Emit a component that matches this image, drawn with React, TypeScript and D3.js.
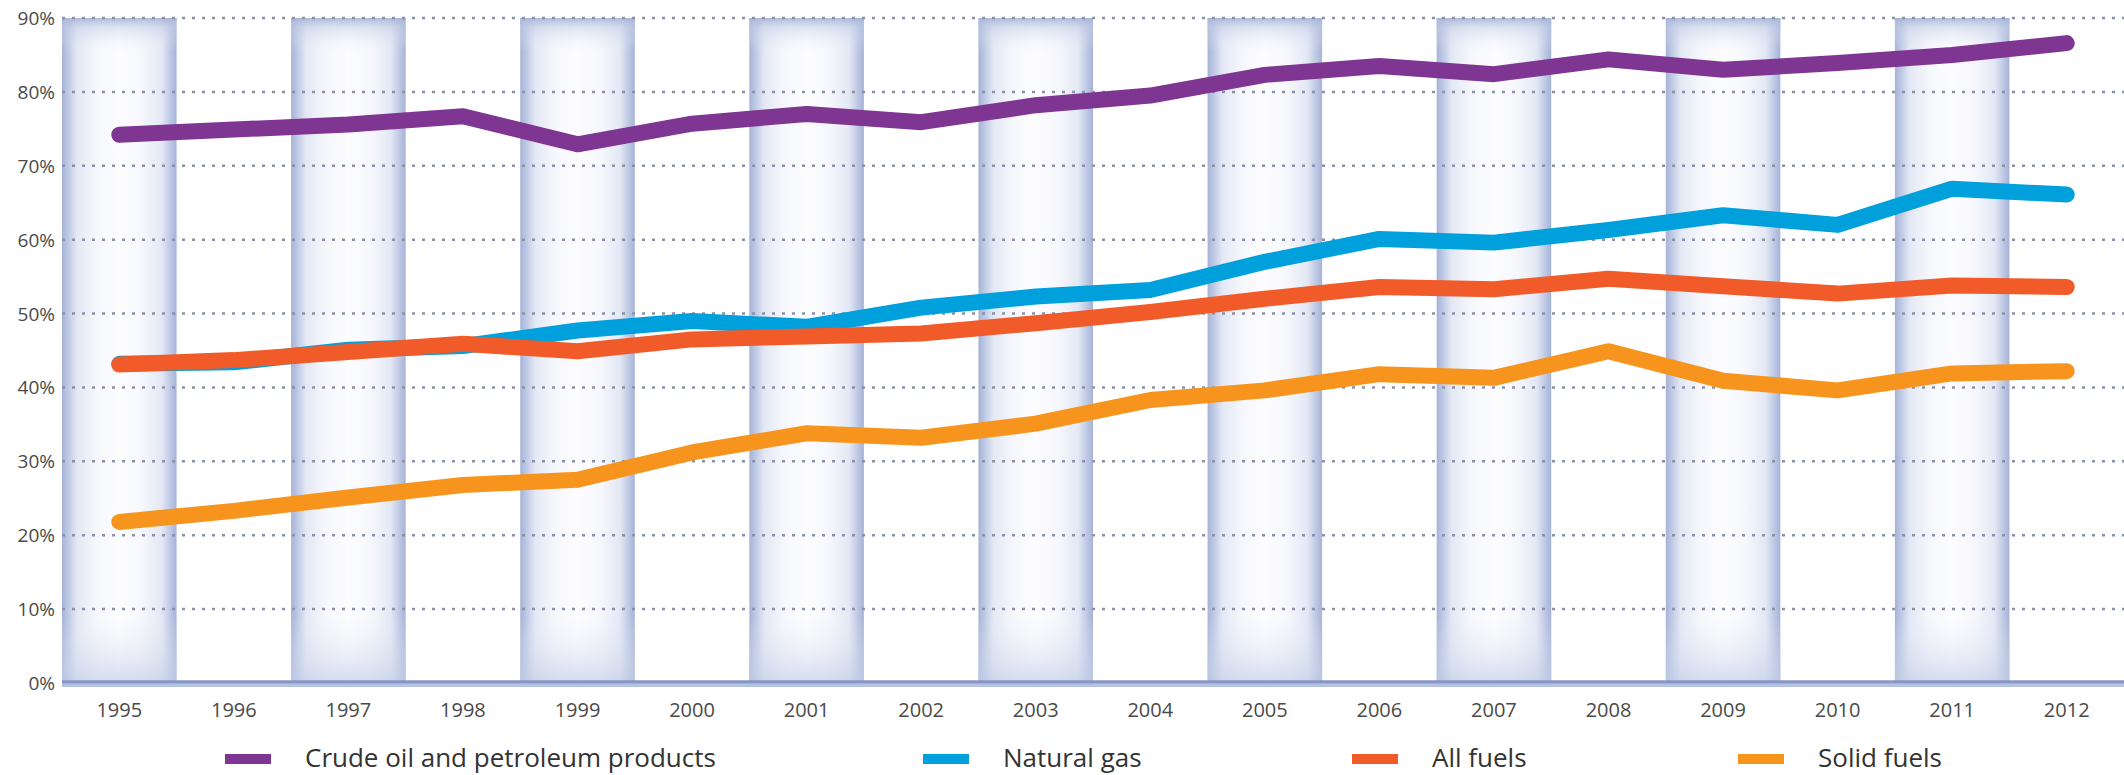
import React from "react";
import * as d3 from "d3";

const years = ["1995","1996","1997","1998","1999","2000","2001","2002","2003","2004","2005","2006","2007","2008","2009","2010","2011","2012"];
const crudeOil = [74.2, 74.9, 75.6, 76.7, 72.9, 75.7, 77.0, 75.9, 78.2, 79.5, 82.3, 83.5, 82.4, 84.4, 83.0, 83.9, 85.0, 86.6];
const naturalGas = [43.2, 43.4, 45.1, 45.6, 47.7, 49.0, 48.2, 50.8, 52.3, 53.2, 57.0, 60.1, 59.6, 61.3, 63.3, 62.0, 66.9, 66.1];
const allFuels = [43.1, 43.7, 44.8, 45.9, 44.9, 46.5, 46.9, 47.3, 48.7, 50.2, 52.0, 53.6, 53.3, 54.7, 53.7, 52.7, 53.8, 53.6];
const solidFuels = [21.8, 23.3, 25.1, 26.8, 27.5, 31.2, 33.8, 33.2, 35.1, 38.3, 39.6, 41.8, 41.3, 44.9, 40.9, 39.6, 41.9, 42.2];
const yTicks = [0, 10, 20, 30, 40, 50, 60, 70, 80, 90];

const seriesNames = ["Crude oil and petroleum products", "Natural gas", "All fuels", "Solid fuels"];
const seriesColors = ["#7f3592", "#00a0dc", "#f15a29", "#f7941d"];
const seriesData = [crudeOil, naturalGas, allFuels, solidFuels];
const legendX = [225, 923, 1352, 1738];

const W = 2124;
const H = 775;
const left = 62;
const right = 2124;
const top = 18;
const bottom = 683;

export default function App() {
  const x = d3.scaleBand<string>().domain(years).range([left, right]).padding(0);
  const y = d3.scaleLinear().domain([0, 90]).range([bottom, top]);
  const bw = x.bandwidth();
  const line = d3
    .line<number>()
    .x((_, i) => (x(years[i]) as number) + bw / 2)
    .y((d) => y(d))
    .curve(d3.curveLinear);

  const font = "'Open Sans', 'DejaVu Sans', sans-serif";

  return (
    <svg
      width={W}
      height={H}
      style={{ position: "absolute", left: 0, top: 0, background: "#ffffff" }}
    >
      <defs>
        <linearGradient id="bandH" x1="0" x2="1" y1="0" y2="0">
          <stop offset="0" stopColor="#a6b3d7" />
          <stop offset="0.05" stopColor="#bcc7e3" />
          <stop offset="0.13" stopColor="#e3e8f4" />
          <stop offset="0.3" stopColor="#f6f7fc" />
          <stop offset="0.5" stopColor="#fdfdff" />
          <stop offset="0.7" stopColor="#f6f7fc" />
          <stop offset="0.87" stopColor="#e3e8f4" />
          <stop offset="0.95" stopColor="#bcc7e3" />
          <stop offset="1" stopColor="#a6b3d7" />
        </linearGradient>
        <linearGradient id="bandV" x1="0" x2="0" y1="0" y2="1">
          <stop offset="0" stopColor="#a6b3d7" stopOpacity="0.9" />
          <stop offset="0.015" stopColor="#c3cde6" stopOpacity="0.5" />
          <stop offset="0.05" stopColor="#e6eaf5" stopOpacity="0" />
          <stop offset="0.9" stopColor="#e6eaf5" stopOpacity="0" />
          <stop offset="1" stopColor="#c3cde6" stopOpacity="0.7" />
        </linearGradient>
      </defs>

      {years.map((yr, i) =>
        i % 2 === 0 ? (
          <g key={"band" + yr}>
            <rect x={x(yr)} y={top} width={bw} height={bottom - top} fill="url(#bandH)" />
            <rect x={x(yr)} y={top} width={bw} height={bottom - top} fill="url(#bandV)" />
          </g>
        ) : null
      )}

      {yTicks.filter((t) => t > 0).map((t) => (
        <line
          key={"g" + t}
          x1={left}
          x2={right}
          y1={y(t)}
          y2={y(t)}
          stroke="#8a91aa"
          strokeWidth={2.5}
          strokeDasharray="3,7"
        />
      ))}

      <line x1={left} x2={right} y1={bottom - 1} y2={bottom - 1} stroke="#8796c6" strokeWidth={3.5} />
      <line x1={left} x2={right} y1={bottom + 2.5} y2={bottom + 2.5} stroke="#b7c1e2" strokeWidth={3} />

      {yTicks.map((t) => (
        <text
          key={"yl" + t}
          x={55}
          y={y(t) + 7}
          textAnchor="end"
          fontFamily={font}
          fontSize={19}
          fill="#4a4a4a"
        >
          {t + "%"}
        </text>
      ))}

      {years.map((yr) => (
        <text
          key={"xl" + yr}
          x={(x(yr) as number) + bw / 2}
          y={717}
          textAnchor="middle"
          fontFamily={font}
          fontSize={20}
          fill="#4a4a4a"
        >
          {yr}
        </text>
      ))}

      {seriesData.map((s, k) => (
        <path
          key={"s" + k}
          d={line(s) || ""}
          fill="none"
          stroke={seriesColors[k]}
          strokeWidth={16}
          strokeLinejoin="round"
          strokeLinecap="round"
        />
      ))}

      {seriesNames.map((n, k) => (
        <g key={"lg" + k}>
          <line
            x1={legendX[k]}
            x2={legendX[k] + 46}
            y1={759}
            y2={759}
            stroke={seriesColors[k]}
            strokeWidth={10}
          />
          <text
            x={legendX[k] + 80}
            y={767}
            fontFamily={font}
            fontSize={26}
            fill="#333333"
          >
            {n}
          </text>
        </g>
      ))}
    </svg>
  );
}
